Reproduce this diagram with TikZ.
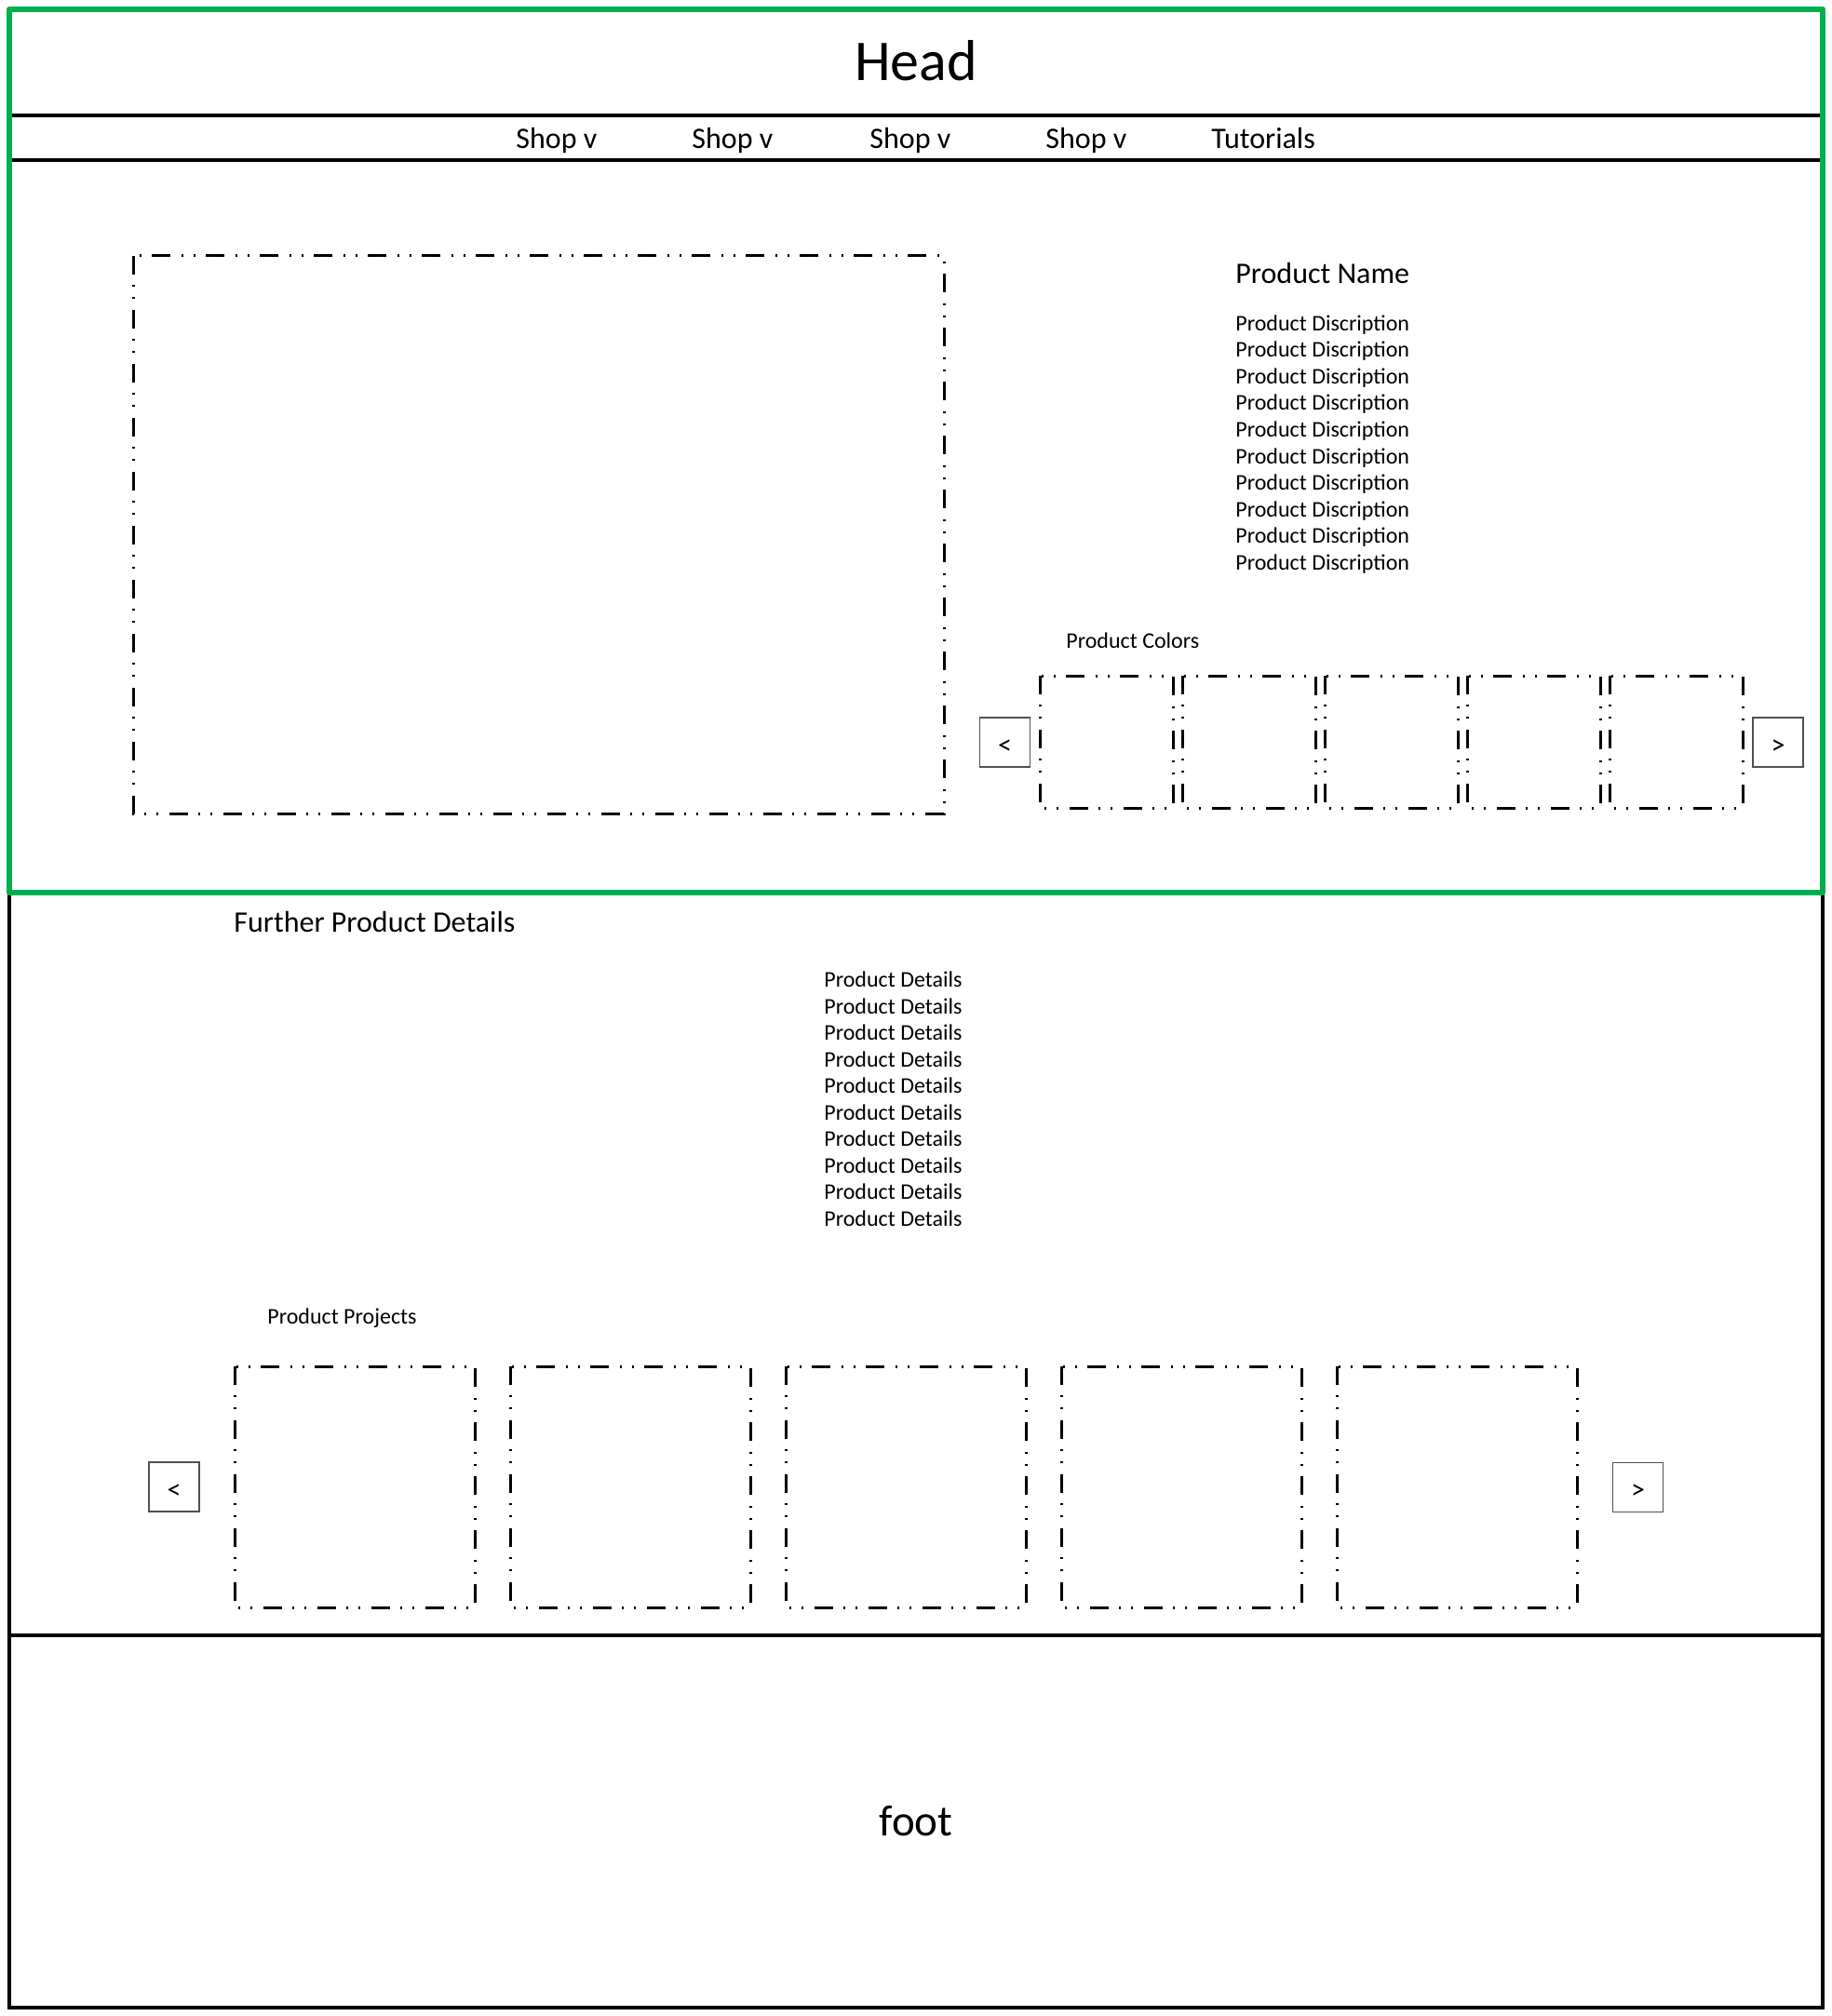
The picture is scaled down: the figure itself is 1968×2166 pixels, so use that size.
\documentclass[tikz,border=0pt]{standalone}
\usepackage{fontspec}
\setmainfont{Carlito}
\definecolor{framegreen}{HTML}{00B050}
\definecolor{btngray}{HTML}{505050}
\begin{document}
\begin{tikzpicture}[x=0.5pt,y=-0.5pt,
  pageframe/.style={draw=black,line width=2pt},
  heroframe/.style={draw=framegreen,line width=3pt,line join=round},
  rule/.style={draw=black,line width=2pt},
  dashbox/.style={draw=black,line width=1.5pt,
    dash pattern=on 10pt off 5.5pt on 1pt off 5.5pt on 1pt off 6pt},
  btn/.style={draw=btngray,line width=0.75pt,minimum width=27pt,minimum height=26.5pt,
    inner sep=0pt,label={[font=\fontsize{15}{18}\selectfont,inner sep=0pt,yshift=-2.5pt]center:#1}},
  bigtext/.style={inner sep=0pt,font=\fontsize{16}{19}\selectfont},
  smalltext/.style={inner sep=0pt,font=\fontsize{12}{14}\selectfont,anchor=base west},
]
\useasboundingbox (0,0) rectangle (1968,2166);

% page outline, footer divider
\draw[pageframe] (10,10) rectangle (1958,2157);
\draw[rule] (10,1757) -- (1958,1757);

% navigation bar rules
\draw[rule] (10,124) -- (1958,124);
\draw[rule] (10,172) -- (1958,172);

% header and footer titles
\node[inner sep=0pt,font=\fontsize{31}{36}\selectfont] (head) at (984,65) {Head};
\node[inner sep=0pt,font=\fontsize{23.5}{28}\selectfont] (foot) at (984,1957) {foot};

% navigation entries
\node[bigtext,anchor=base west] (nav1) at (554,160) {Shop v};
\node[bigtext,anchor=base west] (nav2) at (743,160) {Shop v};
\node[bigtext,anchor=base west] (nav3) at (934,160) {Shop v};
\node[bigtext,anchor=base west] (nav4) at (1123,160) {Shop v};
\node[bigtext,anchor=base west] (nav5) at (1301,160) {Tutorials};

% main product image
\draw[dashbox] (143,275) rectangle (1014,874);

% product name and description
\node[bigtext,anchor=west] (pname) at (1327,294) {Product Name};
\foreach \i in {0,...,9}
  \node[smalltext] (desc\i) at (1327,355.5+28.5*\i) {Product Discription};

% colour swatches carousel
\node[smalltext] (colors) at (1145,696) {Product Colors};
\foreach \i in {0,...,4}
  \draw[dashbox] (1117+153*\i,726) rectangle (1260+153*\i,868);
\node[btn=<] (cprev) at (1079.5,797.5) {};
\node[btn=>] (cnext) at (1910,797.5) {};

% further details section
\node[bigtext,anchor=west] (further) at (251,990) {Further Product Details};
\foreach \i in {0,...,9}
  \node[smalltext] (detail\i) at (885,1060.5+28.5*\i) {Product Details};

% projects carousel
\node[smalltext] (projects) at (287,1422) {Product Projects};
\foreach \i in {0,...,4}
  \draw[dashbox] (252+296*\i,1468) rectangle (510+296*\i,1727);
\node[btn=<] (pprev) at (187,1597.5) {};
\node[btn=>] (pnext) at (1759.5,1598) {};

% highlighted hero region
\draw[heroframe] (10,10) rectangle (1958,959);
\end{tikzpicture}
\end{document}
